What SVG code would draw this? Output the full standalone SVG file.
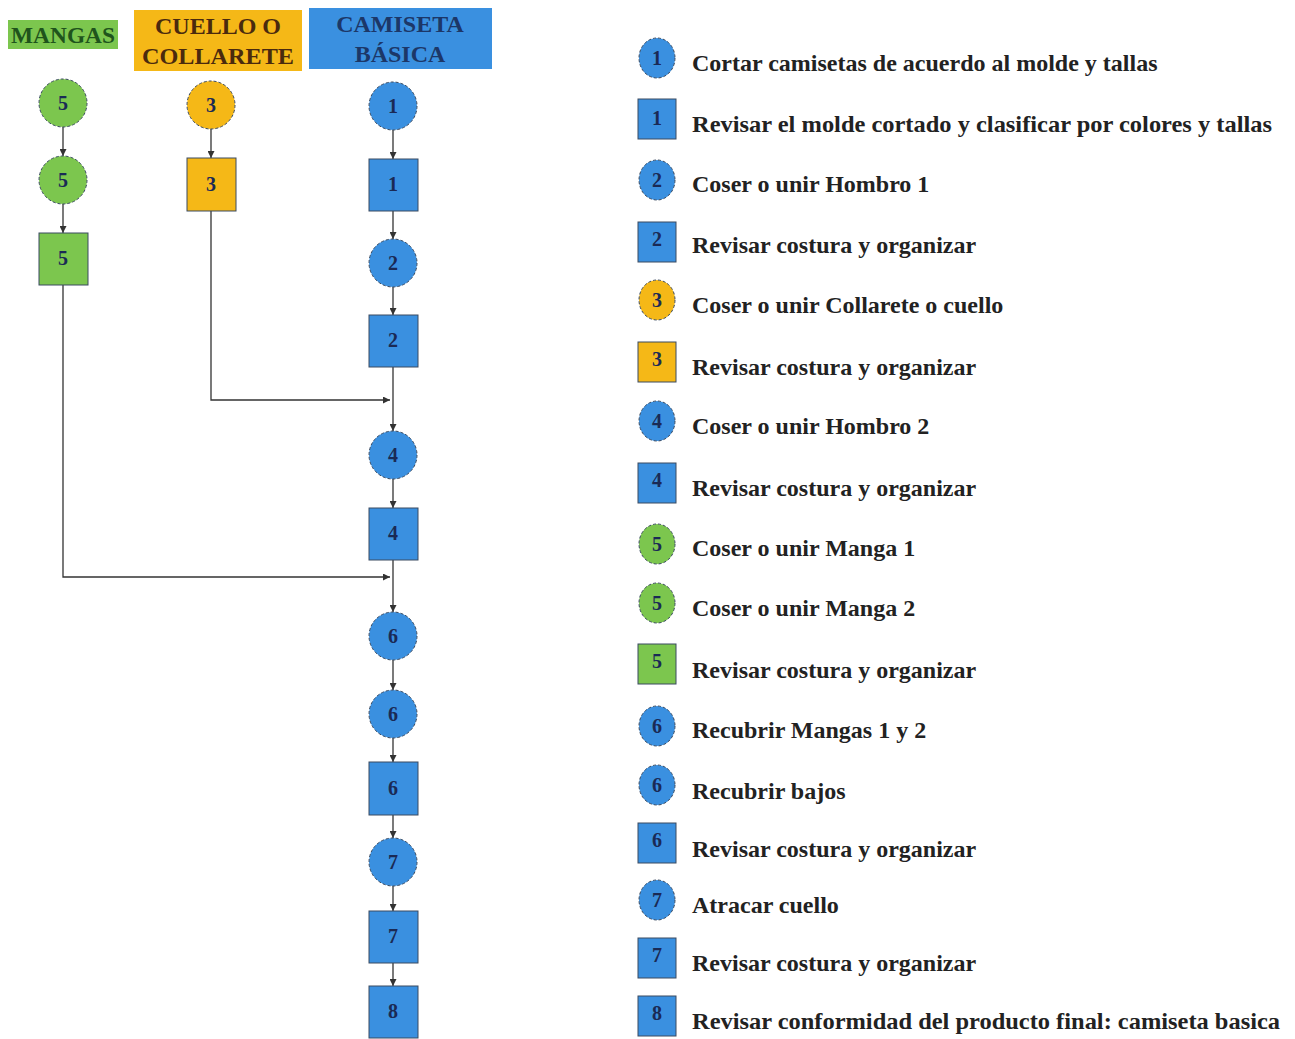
<svg xmlns="http://www.w3.org/2000/svg" width="1295" height="1039" viewBox="0 0 1295 1039">
<style>
.t{font-family:"Liberation Serif","Times New Roman",serif;font-weight:bold}
.n{font-size:20px;fill:#1a2a55;text-anchor:middle}
.lg{font-size:24px;fill:#222}
.hd{font-size:24px;text-anchor:middle}
.b{fill:#3a90e0}
.g{fill:#7cc64e}
.y{fill:#f5b817}
.c{stroke:#3a4a60;stroke-width:1;stroke-dasharray:3 2}
.s{stroke:#3a4a60;stroke-width:1}
.e{stroke:#333;stroke-width:1.3;fill:none}
</style>
<defs>
<marker id="a" viewBox="0 0 10 10" refX="10" refY="5" markerWidth="7" markerHeight="7" markerUnits="userSpaceOnUse" orient="auto"><path d="M0,0L10,5L0,10z" fill="#333"/></marker>
</defs>
<rect width="1295" height="1039" fill="#fff"/>
<g id="headers">
<rect x="8" y="20" width="110" height="29" class="g"/>
<text x="63" y="43" class="t hd" fill="#1f541c" textLength="104" lengthAdjust="spacingAndGlyphs">MANGAS</text>
<rect x="134" y="10" width="168" height="61" class="y"/>
<text x="218" y="34" class="t hd" fill="#4a2a0e">CUELLO O</text>
<text x="218" y="64" class="t hd" fill="#4a2a0e" textLength="152" lengthAdjust="spacingAndGlyphs">COLLARETE</text>
<rect x="309" y="8" width="183" height="61" class="b"/>
<text x="400" y="32" class="t hd" fill="#1c3768">CAMISETA</text>
<text x="400" y="62" class="t hd" fill="#1c3768">BÁSICA</text>
</g>
<g id="connectors">
<line x1="63" y1="127" x2="63" y2="156" class="e" marker-end="url(#a)"/>
<line x1="63" y1="204" x2="63" y2="233" class="e" marker-end="url(#a)"/>
<polyline points="63,285 63,577 390,577" class="e" marker-end="url(#a)"/>
<line x1="211" y1="129" x2="211" y2="158" class="e" marker-end="url(#a)"/>
<polyline points="211,211 211,400 390,400" class="e" marker-end="url(#a)"/>
<line x1="393" y1="130" x2="393" y2="159" class="e" marker-end="url(#a)"/>
<line x1="393" y1="211" x2="393" y2="239" class="e" marker-end="url(#a)"/>
<line x1="393" y1="287" x2="393" y2="315" class="e" marker-end="url(#a)"/>
<line x1="393" y1="367" x2="393" y2="431" class="e" marker-end="url(#a)"/>
<line x1="393" y1="479" x2="393" y2="508" class="e" marker-end="url(#a)"/>
<line x1="393" y1="560" x2="393" y2="612" class="e" marker-end="url(#a)"/>
<line x1="393" y1="660" x2="393" y2="690" class="e" marker-end="url(#a)"/>
<line x1="393" y1="738" x2="393" y2="762" class="e" marker-end="url(#a)"/>
<line x1="393" y1="815" x2="393" y2="838" class="e" marker-end="url(#a)"/>
<line x1="393" y1="886" x2="393" y2="911" class="e" marker-end="url(#a)"/>
<line x1="393" y1="963" x2="393" y2="986" class="e" marker-end="url(#a)"/>
</g>
<g id="m5a"><circle cx="63" cy="103" r="24" class="g c"/><text x="63" y="110" class="t n" fill="#1f3a1a">5</text></g>
<g id="m5b"><circle cx="63" cy="180" r="24" class="g c"/><text x="63" y="187" class="t n">5</text></g>
<g id="m5s"><rect x="39" y="233" width="49" height="52" class="g s"/><text x="63" y="265" class="t n">5</text></g>
<g id="c3a"><circle cx="211" cy="105" r="24" class="y c"/><text x="211" y="112" class="t n" fill="#4a2a0e">3</text></g>
<g id="c3s"><rect x="187" y="158" width="49" height="53" class="y s"/><text x="211" y="191" class="t n" fill="#4a2a0e">3</text></g>
<g id="b1a"><circle cx="393" cy="106" r="24" class="b c"/><text x="393" y="113" class="t n">1</text></g>
<g id="b1s"><rect x="369" y="159" width="49" height="52" class="b s"/><text x="393" y="191" class="t n">1</text></g>
<g id="b2a"><circle cx="393" cy="263" r="24" class="b c"/><text x="393" y="270" class="t n">2</text></g>
<g id="b2s"><rect x="369" y="315" width="49" height="52" class="b s"/><text x="393" y="347" class="t n">2</text></g>
<g id="b4a"><circle cx="393" cy="455" r="24" class="b c"/><text x="393" y="462" class="t n">4</text></g>
<g id="b4s"><rect x="369" y="508" width="49" height="52" class="b s"/><text x="393" y="540" class="t n">4</text></g>
<g id="b6a"><circle cx="393" cy="636" r="24" class="b c"/><text x="393" y="643" class="t n">6</text></g>
<g id="b6b"><circle cx="393" cy="714" r="24" class="b c"/><text x="393" y="721" class="t n">6</text></g>
<g id="b6s"><rect x="369" y="762" width="49" height="53" class="b s"/><text x="393" y="795" class="t n">6</text></g>
<g id="b7a"><circle cx="393" cy="862" r="24" class="b c"/><text x="393" y="869" class="t n">7</text></g>
<g id="b7s"><rect x="369" y="911" width="49" height="52" class="b s"/><text x="393" y="943" class="t n">7</text></g>
<g id="b8s"><rect x="369" y="986" width="49" height="52" class="b s"/><text x="393" y="1018" class="t n">8</text></g>
<g id="legend">
<ellipse cx="657" cy="58" rx="18" ry="20" class="b c"/><text x="657" y="65" class="t n">1</text><text x="692" y="71" class="t lg">Cortar camisetas de acuerdo al molde y tallas</text>
<rect x="638" y="99" width="38" height="40" class="b s"/><text x="657" y="125" class="t n">1</text><text x="692" y="132" class="t lg" textLength="580" lengthAdjust="spacingAndGlyphs">Revisar el molde cortado y clasificar por colores y tallas</text>
<ellipse cx="657" cy="180" rx="18" ry="20" class="b c"/><text x="657" y="187" class="t n">2</text><text x="692" y="192" class="t lg">Coser o unir Hombro 1</text>
<rect x="638" y="222" width="38" height="40" class="b s"/><text x="657" y="246" class="t n">2</text><text x="692" y="253" class="t lg">Revisar costura y organizar</text>
<ellipse cx="657" cy="300" rx="18" ry="20" class="y c"/><text x="657" y="307" class="t n" fill="#4a2a0e">3</text><text x="692" y="313" class="t lg">Coser o unir Collarete o cuello</text>
<rect x="638" y="342" width="38" height="40" class="y s"/><text x="657" y="366" class="t n" fill="#4a2a0e">3</text><text x="692" y="375" class="t lg">Revisar costura y organizar</text>
<ellipse cx="657" cy="421" rx="18" ry="20" class="b c"/><text x="657" y="428" class="t n">4</text><text x="692" y="434" class="t lg">Coser o unir Hombro 2</text>
<rect x="638" y="463" width="38" height="40" class="b s"/><text x="657" y="487" class="t n">4</text><text x="692" y="496" class="t lg">Revisar costura y organizar</text>
<ellipse cx="657" cy="544" rx="18" ry="20" class="g c"/><text x="657" y="551" class="t n" fill="#1f3a1a">5</text><text x="692" y="556" class="t lg">Coser o unir Manga 1</text>
<ellipse cx="657" cy="603" rx="18" ry="20" class="g c"/><text x="657" y="610" class="t n" fill="#1f3a1a">5</text><text x="692" y="616" class="t lg">Coser o unir Manga 2</text>
<rect x="638" y="644" width="38" height="40" class="g s"/><text x="657" y="668" class="t n" fill="#1f3a1a">5</text><text x="692" y="678" class="t lg">Revisar costura y organizar</text>
<ellipse cx="657" cy="726" rx="18" ry="20" class="b c"/><text x="657" y="733" class="t n">6</text><text x="692" y="738" class="t lg">Recubrir Mangas 1 y 2</text>
<ellipse cx="657" cy="785" rx="18" ry="20" class="b c"/><text x="657" y="792" class="t n">6</text><text x="692" y="799" class="t lg">Recubrir bajos</text>
<rect x="638" y="823" width="38" height="40" class="b s"/><text x="657" y="847" class="t n">6</text><text x="692" y="857" class="t lg">Revisar costura y organizar</text>
<ellipse cx="657" cy="900" rx="18" ry="20" class="b c"/><text x="657" y="907" class="t n">7</text><text x="692" y="913" class="t lg">Atracar cuello</text>
<rect x="638" y="938" width="38" height="40" class="b s"/><text x="657" y="962" class="t n">7</text><text x="692" y="971" class="t lg">Revisar costura y organizar</text>
<rect x="638" y="996" width="38" height="40" class="b s"/><text x="657" y="1020" class="t n">8</text><text x="692" y="1029" class="t lg" textLength="588" lengthAdjust="spacingAndGlyphs">Revisar conformidad del producto final: camiseta basica</text>
</g>
</svg>
